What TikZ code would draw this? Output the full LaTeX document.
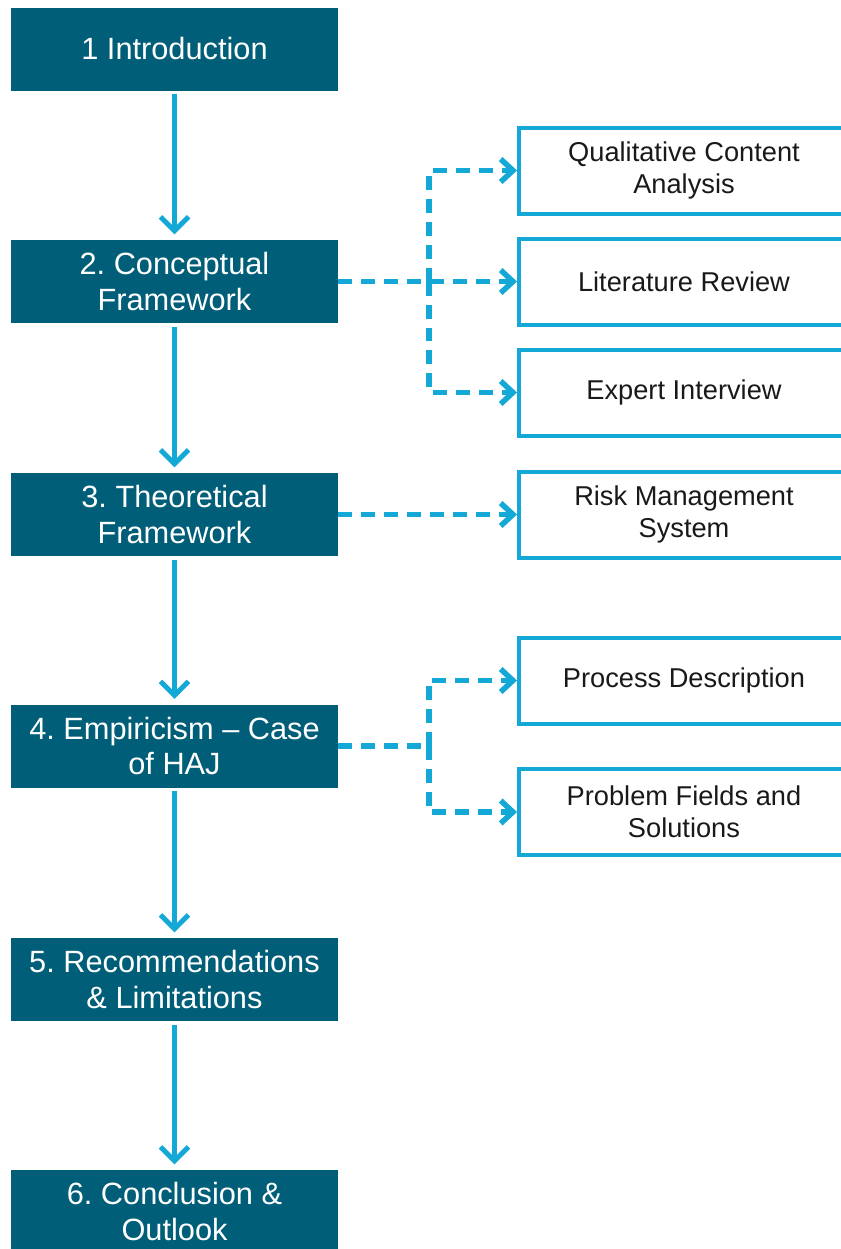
\documentclass[tikz,border=0pt]{standalone}
\usepackage{fontspec}
\setmainfont{Liberation Sans}
\frenchspacing
\usetikzlibrary{arrows.meta}
\definecolor{chapfill}{RGB}{0,94,120}
\definecolor{linkblue}{RGB}{20,168,214}

\begin{document}
\begin{tikzpicture}[x=0.02cm, y=-0.02cm,
  chapter/.style={fill=chapfill, text=white, align=center, inner sep=0pt,
    minimum width=6.54cm, minimum height=1.66cm,
    font=\fontsize{17.5}{20}\selectfont},
  method/.style={draw=linkblue, line width=0.08cm, fill=white, text=black!90,
    align=center, inner sep=0pt, minimum width=6.6cm, minimum height=1.72cm,
    font=\fontsize{15.5}{18}\selectfont},
  flow/.style={draw=linkblue, line width=0.1cm,
    -{Straight Barb[length=8pt, width=16pt]}, shorten <=2pt, shorten >=3pt},
  dashflow/.style={draw=linkblue, line width=0.11cm, dash pattern=on 0.28cm off 0.18cm,
    -{Straight Barb[length=7pt, width=13pt]}}]
  \useasboundingbox (0,0) rectangle (841,1249);

  % chapters
  \node[chapter] (intro)   at (174.5,49)   {1 Introduction};
  \node[chapter] (concept) at (174.5,281.5) {2. Conceptual\\Framework};
  \node[chapter] (theory)  at (174.5,514.5) {3. Theoretical\\Framework};
  \node[chapter] (empiric) at (174.5,746)  {4. Empiricism -- Case\\of HAJ};
  \node[chapter] (recomm)  at (174.5,979.5) {5. Recommendations\\\& Limitations};
  \node[chapter] (conclu)  at (174.5,1211.5) {6. Conclusion \&\\Outlook};

  % methods
  \node[method] (qual)    at (684,170.5) {Qualitative Content\\Analysis};
  \node[method] (litrev)  at (684,281.5) {Literature Review};
  \node[method] (expert)  at (684,392.5) {Expert Interview};
  \node[method] (risk)    at (684,514.5) {Risk Management\\System};
  \node[method] (process) at (684,680.5) {Process Description};
  \node[method] (problem) at (684,812)   {Problem Fields and\\Solutions};

  \coordinate (fork1) at (429,281.5);
  \coordinate (fork2) at (429,746);

  \draw[flow] (intro) -- (concept);
  \draw[flow] (concept) -- (theory);
  \draw[flow] (theory) -- (empiric);
  \draw[flow] (empiric) -- (recomm);
  \draw[flow] (recomm) -- (conclu);

  \draw[dashflow] (concept.east) -- (litrev.west);
  \draw[dashflow] (fork1) |- (qual.west);
  \draw[dashflow] (fork1) |- (expert.west);
  \draw[dashflow] (theory.east) -- (risk.west);
  \draw[dashflow, -] (empiric.east) -- (fork2);
  \draw[dashflow] (fork2) |- (process.west);
  \draw[dashflow] (fork2) |- (problem.west);
\end{tikzpicture}
\end{document}
